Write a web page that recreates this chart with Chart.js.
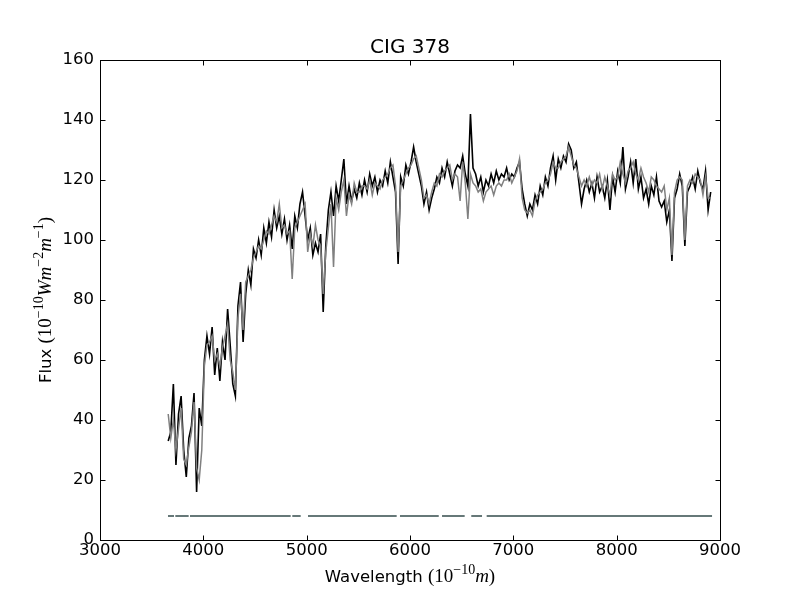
<!DOCTYPE html>
<html>
<head>
<meta charset="utf-8">
<script src="https://cdn.jsdelivr.net/npm/chart.js@4.4.1/dist/chart.umd.min.js"></script>
<style>
  html, body { margin: 0; padding: 0; background: #fff; }
</style>
</head>
<body>
<canvas id="chart" width="800" height="600"></canvas>
<script>
// Wavelength grid (Angstrom)
const wavelength = [
  3660, 3685, 3710, 3735, 3760, 3785, 3810, 3835, 3860, 3885,
  3910, 3935, 3960, 3985, 4010, 4035, 4060, 4085, 4110, 4135,
  4160, 4185, 4210, 4235, 4260, 4285, 4310, 4335, 4360, 4385,
  4410, 4435, 4460, 4485, 4510, 4535, 4560, 4585, 4610, 4635,
  4660, 4685, 4710, 4735, 4760, 4785, 4810, 4835, 4860, 4885,
  4910, 4935, 4960, 4985, 5010, 5035, 5060, 5085, 5110, 5135,
  5160, 5185, 5210, 5235, 5260, 5285, 5310, 5335, 5360, 5385,
  5410, 5435, 5460, 5485, 5510, 5535, 5560, 5585, 5610, 5635,
  5660, 5685, 5710, 5735, 5760, 5785, 5810, 5835, 5860, 5885,
  5910, 5935, 5960, 5985, 6010, 6035, 6060, 6085, 6110, 6135,
  6160, 6185, 6210, 6235, 6260, 6285, 6310, 6335, 6360, 6385,
  6410, 6435, 6460, 6485, 6510, 6535, 6560, 6585, 6610, 6635,
  6660, 6685, 6710, 6735, 6760, 6785, 6810, 6835, 6860, 6885,
  6910, 6935, 6960, 6985, 7010, 7035, 7060, 7085, 7110, 7135,
  7160, 7185, 7210, 7235, 7260, 7285, 7310, 7335, 7360, 7385,
  7410, 7435, 7460, 7485, 7510, 7535, 7560, 7585, 7610, 7635,
  7660, 7685, 7710, 7735, 7760, 7785, 7810, 7835, 7860, 7885,
  7910, 7935, 7960, 7985, 8010, 8035, 8060, 8085, 8110, 8135,
  8160, 8185, 8210, 8235, 8260, 8285, 8310, 8335, 8360, 8385,
  8410, 8435, 8460, 8485, 8510, 8535, 8560, 8585, 8610, 8635,
  8660, 8685, 8710, 8735, 8760, 8785, 8810, 8835, 8860, 8885,
  8910
];

// observed spectrum (black)
const fluxObserved = [
  33, 36, 52, 25, 42, 48, 30, 21, 34, 38,
  49, 16, 44, 38, 60, 68, 62, 71, 55, 64,
  53, 66, 60, 77, 65, 52, 48, 78, 86, 66,
  82, 90, 85, 97, 94, 100, 95, 104, 99, 106,
  101, 110, 104, 108, 102, 107, 100, 105, 97, 108,
  104, 112, 116, 108, 100, 104, 95, 99, 96, 102,
  76, 98, 110, 116, 108, 118, 113, 120, 127, 112,
  118, 113, 117, 114, 119, 115, 120, 116, 122, 118,
  121, 116, 120, 118, 123, 119, 126, 121, 116, 92,
  121, 118, 125, 122, 126, 131, 126, 122, 118, 112,
  116, 110, 114, 117, 121, 119, 124, 121, 126, 122,
  118, 123, 125, 124, 128, 122, 118, 142, 124, 122,
  118, 121, 116, 120, 118, 122, 119, 123, 120, 122,
  121, 124, 120, 122, 121, 124, 126, 117, 112, 108,
  112, 110, 115, 112, 118, 115, 121, 118, 124, 128,
  120, 127, 124, 128, 126, 132, 130, 124, 126, 119,
  112, 117, 120, 116, 119, 114, 121, 116, 118, 114,
  120, 110, 121, 116, 123, 119, 131, 117, 121, 126,
  119, 127, 117, 121, 114, 117, 112, 118, 115, 121,
  113, 111, 113, 106, 110, 93, 114, 117, 122, 118,
  98, 116, 118, 121, 117, 123, 119, 117, 123, 110,
  116
];

// model fit (grey)
const fluxModel = [
  42, 34, 40, 30, 37, 44, 27, 25, 31, 36,
  46, 24, 20, 30, 58, 65, 66, 68, 60, 62,
  58, 64, 68, 72, 60, 56, 50, 74, 82, 70,
  86, 88, 90, 94, 96, 98, 97, 100, 103, 102,
  105, 108, 106, 112, 104, 105, 102, 103, 87, 104,
  106, 108, 110, 112, 96, 102, 98, 105, 100, 98,
  82, 96, 104, 112, 91, 114, 110, 116, 120, 108,
  115, 112, 119, 116, 116, 118, 118, 117, 120, 115,
  119, 118, 117, 120, 121, 122, 124, 125, 118, 96,
  118, 120, 122, 124, 125, 127, 128, 124, 120, 114,
  115, 112, 116, 119, 118, 122, 121, 123, 124, 125,
  120, 122, 121, 113, 126, 119, 107, 122, 119, 118,
  116, 117, 113, 116, 117, 118, 115, 118, 119, 118,
  120, 120, 122, 119, 121, 123, 127, 114, 110, 109,
  110, 108, 113, 115, 116, 117, 119, 120, 122, 126,
  124, 124, 126, 127, 128, 131, 128, 125, 124, 121,
  118, 120, 118, 121, 118, 120, 119, 122, 117, 121,
  118, 115, 122, 120, 121, 126, 122, 119, 123, 124,
  126, 122, 120, 124, 121, 119, 116, 121, 120, 118,
  117, 116, 118, 110, 114, 95, 116, 120, 121, 120,
  100, 118, 120, 119, 122, 121, 120, 115, 121, 114,
  114
];

// fitted-region mask: [start, end] wavelength pairs, drawn at maskLevel
const maskEdges = [
  [3658, 3716], [3729, 3858], [3871, 4845], [4861, 4942], [5013, 5871],
  [5903, 6278], [6310, 6529], [6593, 6697], [6742, 8923]
];
const maskLevel = 8;

const xTicks = [3000, 4000, 5000, 6000, 7000, 8000, 9000];
const yTicks = [0, 20, 40, 60, 80, 100, 120, 140, 160];

const titleText = 'CIG 378';
const sansFont = '"DejaVu Sans", sans-serif';
const mathFont = '"Liberation Serif", serif';

const observedPoints = wavelength.map((w, i) => ({ x: w, y: fluxObserved[i] }));
const modelPoints = wavelength.map((w, i) => ({ x: w, y: fluxModel[i] }));
const maskPoints = [];
maskEdges.forEach(seg => {
    maskPoints.push({ x: seg[0], y: maskLevel });
    maskPoints.push({ x: seg[1], y: maskLevel });
    maskPoints.push({ x: seg[1], y: null }); // break the line
});

// draws a list of text runs with different fonts one after another, centred on 0
function drawRuns(ctx, runs) {
    let total = 0;
    runs.forEach(r => { ctx.font = r.font; total += ctx.measureText(r.text).width; });
    let pos = -total / 2;
    runs.forEach(r => {
        ctx.font = r.font;
        ctx.fillText(r.text, pos, r.dy || 0);
        pos += ctx.measureText(r.text).width;
    });
}

const framePlugin = {
    id: 'frame',
    afterDraw(chart) {
        const { ctx, chartArea: a, scales } = chart;
        const x = scales.x, y = scales.y;
        ctx.save();
        ctx.strokeStyle = '#000';
        ctx.lineWidth = 1;
        const L = Math.round(a.left) + 0.5, R = Math.round(a.right) + 0.5;
        const T = Math.round(a.top) + 0.5, B = Math.round(a.bottom) + 0.5;
        ctx.strokeRect(L, T, R - L, B - T);

        // inward ticks on all four sides
        const len = 5;
        ctx.beginPath();
        xTicks.forEach(v => {
            const px = Math.round(x.getPixelForValue(v)) + 0.5;
            ctx.moveTo(px, B); ctx.lineTo(px, B - len);
            ctx.moveTo(px, T); ctx.lineTo(px, T + len);
        });
        yTicks.forEach(v => {
            const py = Math.round(y.getPixelForValue(v)) + 0.5;
            ctx.moveTo(L, py); ctx.lineTo(L + len, py);
            ctx.moveTo(R, py); ctx.lineTo(R - len, py);
        });
        ctx.stroke();

        ctx.fillStyle = '#000';
        ctx.textBaseline = 'alphabetic';
        ctx.textAlign = 'left';
        const cx = (a.left + a.right) / 2;

        // title
        ctx.save();
        ctx.translate(cx, 53);
        drawRuns(ctx, [{ text: titleText, font: '20px ' + sansFont }]);
        ctx.restore();

        // x axis title
        ctx.save();
        ctx.translate(cx, 582);
        drawRuns(ctx, [
            { text: 'Wavelength ', font: '16.5px ' + sansFont },
            { text: '(10', font: '19px ' + mathFont },
            { text: '\u221210', font: '14px ' + mathFont, dy: -8 },
            { text: 'm', font: 'italic 19px ' + mathFont },
            { text: ')', font: '19px ' + mathFont }
        ]);
        ctx.restore();

        // y axis title
        ctx.save();
        ctx.translate(51, (a.top + a.bottom) / 2);
        ctx.rotate(-Math.PI / 2);
        drawRuns(ctx, [
            { text: 'Flux ', font: '16.5px ' + sansFont },
            { text: '(10', font: '19px ' + mathFont },
            { text: '\u221210', font: '14px ' + mathFont, dy: -8 },
            { text: 'Wm', font: 'italic 19px ' + mathFont },
            { text: '\u22122', font: '14px ' + mathFont, dy: -8 },
            { text: 'm', font: 'italic 19px ' + mathFont },
            { text: '\u22121', font: '14px ' + mathFont, dy: -8 },
            { text: ')', font: '19px ' + mathFont }
        ]);
        ctx.restore();
        ctx.restore();
    }
};

const chart = new Chart(document.getElementById('chart').getContext('2d'), {
    type: 'scatter',
    data: {
        datasets: [
            {
                label: 'mask',
                data: maskPoints,
                showLine: true,
                spanGaps: false,
                borderColor: '#667878',
                borderWidth: 2,
                pointRadius: 0,
                order: 0
            },
            {
                label: 'model',
                data: modelPoints,
                showLine: true,
                borderColor: '#808080',
                borderWidth: 1.5,
                pointRadius: 0,
                order: 1
            },
            {
                label: 'observed',
                data: observedPoints,
                showLine: true,
                borderColor: '#000000',
                borderWidth: 1.6,
                pointRadius: 0,
                order: 2
            }
        ]
    },
    options: {
        responsive: false,
        animation: false,
        events: [],
        layout: { padding: { top: 60, right: 80, left: 0, bottom: 0 } },
        plugins: {
            legend: { display: false },
            tooltip: { enabled: false },
            title: { display: false }
        },
        scales: {
            x: {
                type: 'linear',
                min: 3000,
                max: 9000,
                afterFit: scale => { scale.height = 60; },
                afterBuildTicks: scale => { scale.ticks = xTicks.map(v => ({ value: v })); },
                grid: { display: false, drawTicks: false },
                border: { display: false },
                ticks: {
                    color: '#000',
                    font: { family: sansFont, size: 16.5 },
                    padding: 1,
                    maxRotation: 0,
                    autoSkip: false,
                    callback: v => String(v)
                }
            },
            y: {
                type: 'linear',
                min: 0,
                max: 160,
                afterFit: scale => { scale.width = 100; },
                afterBuildTicks: scale => { scale.ticks = yTicks.map(v => ({ value: v })); },
                grid: { display: false, drawTicks: false },
                border: { display: false },
                ticks: {
                    color: '#000',
                    font: { family: sansFont, size: 16.5 },
                    padding: 6,
                    autoSkip: false,
                    callback: v => String(v)
                }
            }
        }
    },
    plugins: [framePlugin]
});
</script>
</body>
</html>
